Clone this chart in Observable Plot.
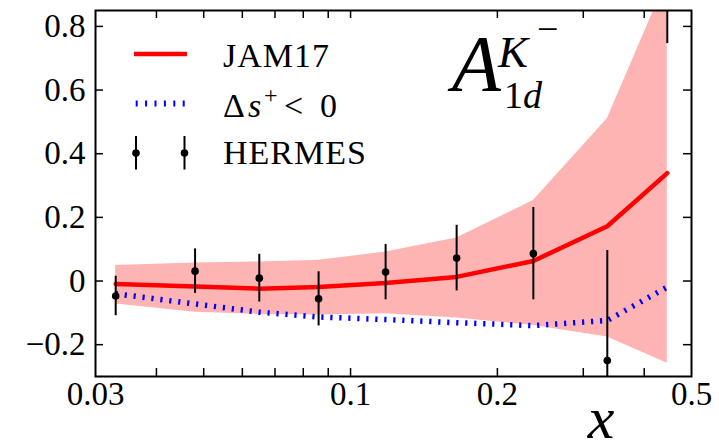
<!DOCTYPE html>
<html><head><meta charset="utf-8">
<script src="https://cdn.jsdelivr.net/npm/d3@7"></script>
<script src="https://cdn.jsdelivr.net/npm/@observablehq/plot@0.6"></script>
<style>body{margin:0;background:#fff}</style>
</head><body><div id="chart"></div>
<script>
// ---- data ----
const xData    = [0.033, 0.048, 0.065, 0.086, 0.118, 0.165, 0.237, 0.336, 0.446];
const hermesY  = [-0.047, 0.031, 0.009, -0.056, 0.028, 0.072, 0.086, -0.250, 1.100];
const hermesErr= [0.062, 0.070, 0.075, 0.085, 0.087, 0.103, 0.145, 0.346, 0.354];
const jamY     = [-0.009, -0.017, -0.024, -0.019, -0.006, 0.013, 0.063, 0.172, 0.339];
const jamLow   = [-0.072, -0.098, -0.105, -0.107, -0.103, -0.116, -0.140, -0.176, -0.258];
const jamHigh  = [0.049, 0.057, 0.060, 0.065, 0.091, 0.135, 0.253, 0.510, 0.950];
const dsNeg    = [-0.040, -0.072, -0.098, -0.113, -0.121, -0.131, -0.140, -0.124, -0.019];
const xTickLabels = [0.03, 0.1, 0.2, 0.5];
const xAllTicks   = [0.04, 0.05, 0.06, 0.07, 0.08, 0.09, 0.1, 0.2, 0.3, 0.4];
const yTicks      = [-0.2, 0, 0.2, 0.4, 0.6, 0.8];

const rows = xData.map((x, i) => ({x, jam: jamY[i], lo: jamLow[i], hi: jamHigh[i], ds: dsNeg[i], h: hermesY[i], e: hermesErr[i]}));

const W = 719, H = 446, mL = 95, mR = 28, mT = 10, mB = 70;
const iw = W - mL - mR, ih = H - mT - mB;
const serif = "'Liberation Serif', 'DejaVu Serif', serif";
const fs = 33, lfs = 34;

function overlay() {
  const g = d3.create("svg:g").attr("font-family", serif).attr("fill", "black").attr("text-anchor", "start");
  // legend swatches
  g.append("line").attr("x1", 134).attr("x2", 187).attr("y1", 54).attr("y2", 54)
    .attr("stroke", "#ff0000").attr("stroke-width", 4.5);
  g.append("line").attr("x1", 135.7).attr("x2", 186).attr("y1", 103.5).attr("y2", 103.5)
    .attr("stroke", "#0000ff").attr("stroke-width", 6).attr("stroke-dasharray", "2,7.4");
  for (const cx of [136, 184.5]) {
    g.append("line").attr("x1", cx).attr("x2", cx).attr("y1", 136).attr("y2", 169.5)
      .attr("stroke", "black").attr("stroke-width", 2);
    g.append("circle").attr("cx", cx).attr("cy", 153).attr("r", 3.8).attr("fill", "black");
  }
  // legend labels
  g.append("text").attr("x", 223).attr("y", 66.7).attr("font-size", lfs).attr("letter-spacing", 1).text("JAM17");
  const ds = g.append("text").attr("x", 223).attr("y", 116.7).attr("font-size", lfs);
  ds.append("tspan").text("Δ");
  ds.append("tspan").attr("x", 248).attr("font-style", "italic").text("s");
  ds.append("tspan").attr("x", 264).attr("y", 103).attr("font-size", 24).text("+");
  ds.append("tspan").attr("x", 284).attr("y", 116.7).text("<");
  ds.append("tspan").attr("x", 320).text("0");
  g.append("text").attr("x", 223).attr("y", 164.3).attr("font-size", lfs).attr("letter-spacing", 1).text("HERMES");
  // annotation A_{1d}^{K^-}
  const a = g.append("text").attr("x", 452).attr("y", 90.7).attr("font-size", 80).attr("font-style", "italic");
  a.append("tspan").text("A");
  a.append("tspan").attr("x", 498).attr("y", 66.7).attr("font-size", 45).text("K");
  a.append("tspan").attr("x", 537).attr("y", 42).attr("font-size", 38).attr("font-style", "normal").text("−");
  a.append("tspan").attr("x", 504).attr("y", 108.3).attr("font-size", 38).attr("font-style", "normal").text("1");
  a.append("tspan").attr("font-size", 38).text("d");
  // x-axis label
  g.append("text").attr("x", 601).attr("y", 438).attr("text-anchor", "middle")
    .attr("font-size", 60).attr("font-style", "italic").text("x");
  return g.node();
}

const chart = Plot.plot({
  width: W, height: H,
  marginLeft: mL, marginRight: mR, marginTop: mT, marginBottom: mB,
  style: {fontFamily: serif, background: "white", overflow: "visible"},
  x: {type: "log", domain: [0.03, 0.5], axis: null},
  y: {domain: [-0.3, 0.85], axis: null},
  marks: [
    Plot.areaY(rows, {x: "x", y1: "lo", y2: "hi", fill: "#ffb4b4", clip: true}),
    Plot.line(rows, {x: "x", y: "jam", stroke: "#ff0000", strokeWidth: 4.5, clip: true}),
    Plot.line(rows, {x: "x", y: "ds", stroke: "#0000ff", strokeWidth: 5.5, strokeLinecap: "butt", strokeDasharray: "2.2,6.8", clip: true}),
    Plot.ruleX(rows, {x: "x", y1: d => d.h - d.e, y2: d => d.h + d.e, stroke: "black", strokeWidth: 2, clip: true}),
    Plot.dot(rows, {x: "x", y: "h", r: 3.8, fill: "black", stroke: null, clip: true}),
    Plot.axisX(xTickLabels, {tickSize: 0, tickPadding: 5, fontSize: fs, label: null, tickFormat: d => String(d)}),
    Plot.axisY(yTicks, {tickSize: 0, tickPadding: 10, fontSize: fs, label: null,
      tickFormat: d => d === 0 ? "0" : d.toFixed(1).replace("-", "−")}),
    Plot.tickX(xAllTicks, {x: d => d, insetTop: ih - 8, stroke: "black", strokeWidth: 1.5}),
    Plot.tickX(xAllTicks, {x: d => d, insetBottom: ih - 8, stroke: "black", strokeWidth: 1.5}),
    Plot.tickY(yTicks, {y: d => d, insetRight: iw - 8, stroke: "black", strokeWidth: 1.5}),
    Plot.tickY(yTicks, {y: d => d, insetLeft: iw - 8, stroke: "black", strokeWidth: 1.5}),
    Plot.frame({stroke: "black", strokeWidth: 2}),
    overlay
  ]
});
document.getElementById("chart").appendChild(chart);
</script>
</body></html>
